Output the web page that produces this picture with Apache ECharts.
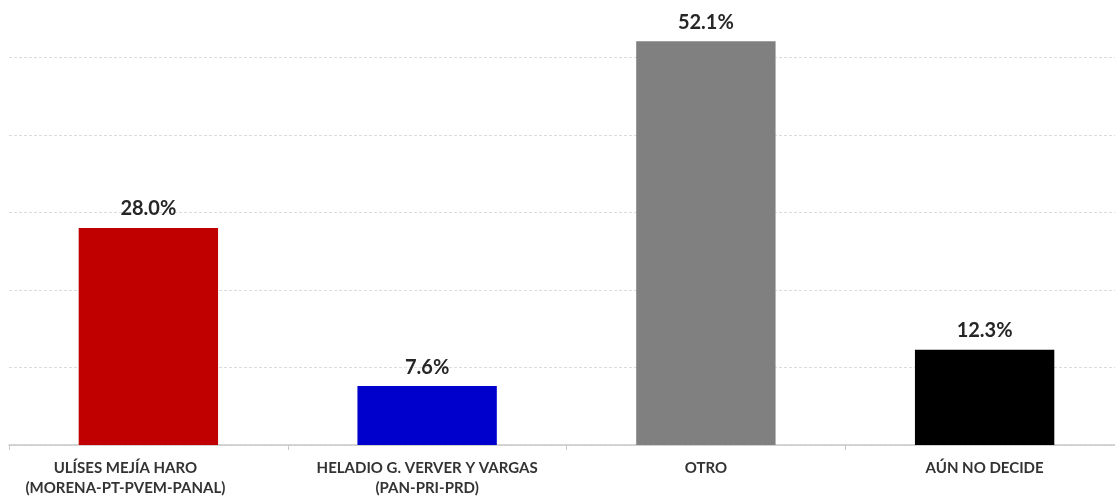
<!DOCTYPE html>
<html>
<head>
<meta charset="utf-8">
<script src="https://cdn.jsdelivr.net/npm/echarts@6/dist/echarts.min.js"></script>
<style>
html,body{margin:0;padding:0;background:#fff;overflow:hidden;width:1115px;height:498px;position:relative;}
#chart{position:absolute;left:0;top:-20px;width:1124px;height:518px;}
</style>
</head>
<body>
<div id="chart"></div>
<script>
const categories = ["ULÍSES MEJÍA HARO\n(MORENA-PT-PVEM-PANAL)", "HELADIO G. VERVER Y VARGAS\n(PAN-PRI-PRD)", "OTRO", "AÚN NO DECIDE"];
const values = [28.0, 7.6, 52.1, 12.3];
const barColors = ["#c00000", "#0000cc", "#808080", "#000000"];

const chart = echarts.init(document.getElementById('chart'));
chart.setOption({
  animation: false,
  grid: { left: 9, right: 0, top: 0, bottom: 50, containLabel: false },
  xAxis: {
    type: 'category',
    data: categories.map((c, i) => i === 0
      ? { value: c, textStyle: { padding: [0, 46, 0, 0] } }
      : c),
    axisLine: { lineStyle: { color: '#c8c8c8', width: 1.5 } },
    axisTick: { show: true, length: 5, lineStyle: { color: '#c8c8c8' } },
    axisLabel: {
      interval: 0,
      margin: 13,
      fontFamily: 'Lato',
      fontWeight: 'bold',
      fontSize: 15,
      lineHeight: 20,
      color: '#333333'
    }
  },
  yAxis: {
    type: 'value',
    min: 0,
    max: 60,
    interval: 10,
    axisLabel: { show: false },
    axisLine: { show: false },
    axisTick: { show: false },
    splitLine: { lineStyle: { color: '#dcdcdc', type: [3, 2], width: 1 } }
  },
  series: [{
    type: 'bar',
    barWidth: '50%',
    data: values.map((v, i) => ({ value: v, itemStyle: { color: barColors[i] } })),
    label: {
      show: true,
      position: 'top',
      distance: 9,
      formatter: p => p.value.toFixed(1) + '%',
      fontFamily: 'Lato',
      fontWeight: 'bold',
      fontSize: 20,
      color: '#262626'
    }
  }]
});
</script>
</body>
</html>
